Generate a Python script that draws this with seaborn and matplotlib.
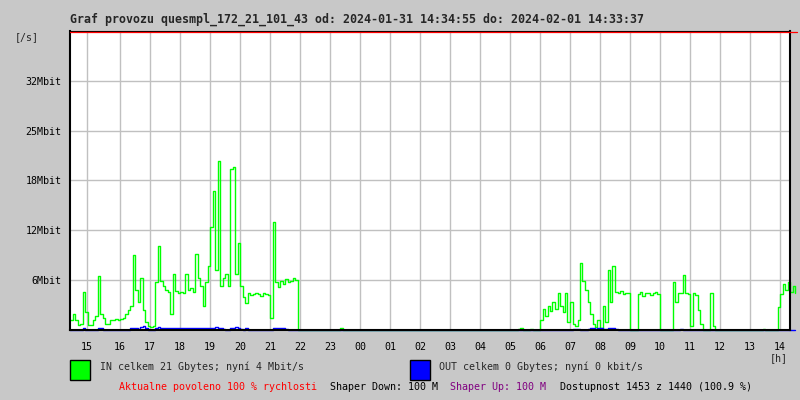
import numpy as np
import pandas as pd
import seaborn as sns
import matplotlib.pyplot as plt
from matplotlib.patches import Rectangle

# 5-minute samples, first sample at 14:20 (Mbit/s)
in_traffic = [
    # 14:20-15:00
    1.3, 2.0, 1.2, 0.6, 0.7, 4.8, 2.2, 0.6,
    # 15
    0.6, 1.2, 1.8, 6.8, 2.0, 1.5, 0.8, 0.7, 1.3, 1.2, 1.4, 1.3,
    # 16
    1.4, 1.5, 2.0, 2.5, 3.0, 9.4, 5.0, 3.5, 6.5, 2.5, 1.0, 0.5,
    # 17
    0.4, 0.5, 6.0, 10.5, 6.2, 5.5, 5.0, 4.8, 2.0, 7.0, 4.9, 4.7,
    # 18
    4.8, 4.6, 7.0, 5.0, 5.3, 4.8, 9.5, 6.5, 5.5, 3.0, 6.0, 8.0,
    # 19
    12.9, 17.4, 7.5, 21.2, 5.5, 6.5, 7.0, 5.5, 20.2, 20.4, 7.0, 10.9,
    # 20
    5.5, 4.2, 3.4, 4.6, 4.4, 4.5, 4.6, 4.5, 4.3, 4.6, 4.5, 4.4,
    # 21
    1.5, 13.5, 6.0, 5.4, 6.2, 5.8, 6.4, 6.0, 6.2, 6.5, 6.3, 0.0,
    # 22
    0, 0, 0, 0, 0, 0, 0, 0, 0, 0, 0, 0,
    # 23
    0, 0, 0, 0, 0.3, 0, 0, 0, 0, 0, 0, 0,
    # 00
    0, 0, 0, 0, 0, 0, 0, 0, 0, 0, 0, 0,
    # 01
    0, 0, 0, 0, 0, 0, 0, 0, 0, 0, 0, 0,
    # 02
    0, 0, 0, 0, 0, 0, 0, 0, 0, 0, 0, 0,
    # 03
    0, 0, 0, 0, 0, 0, 0, 0, 0, 0, 0, 0,
    # 04
    0, 0, 0, 0, 0, 0, 0, 0, 0, 0, 0, 0,
    # 05
    0, 0, 0, 0.1, 0.2, 0, 0, 0, 0.1, 0, 0, 0,
    # 06
    1.2, 2.6, 1.8, 3.0, 2.4, 3.5, 2.6, 4.7, 3.0, 2.2, 4.7, 1.0,
    # 07
    3.5, 0.8, 0.5, 1.2, 8.4, 6.2, 5.0, 3.5, 2.0, 0.8, 0.4, 1.2,
    # 08
    0.3, 3.0, 1.0, 7.5, 3.5, 8.0, 4.8, 4.6, 4.9, 4.5, 4.7, 4.6,
    # 09
    0, 0, 0, 4.5, 4.8, 4.3, 4.6, 4.7, 4.4, 4.6, 4.8, 4.5,
    # 10
    0, 0, 0, 0, 0, 6.0, 3.5, 4.6, 4.7, 6.9, 4.6, 4.5,
    # 11
    0.5, 4.7, 4.4, 2.5, 0.8, 0, 0, 0, 4.7, 0.5, 0, 0,
    # 12
    0, 0, 0, 0, 0, 0, 0, 0, 0, 0, 0, 0,
    # 13
    0, 0, 0, 0, 0, 0.1, 0, 0, 0, 0, 0, 2.9,
    # 14:00-14:35
    4.5, 5.8, 5.0, 6.0, 4.8, 5.5, 4.6,
]

out_traffic = [
    # 14:20-15:00
    0, 0, 0, 0, 0, 0.3, 0, 0,
    # 15
    0, 0, 0, 0.2, 0.2, 0, 0, 0, 0, 0, 0, 0,
    # 16
    0, 0, 0, 0, 0.2, 0.3, 0.2, 0.1, 0.4, 0.5, 0.2, 0,
    # 17
    0, 0, 0.3, 0.4, 0.3, 0.3, 0.25, 0.2, 0.25, 0.3, 0.2, 0.25,
    # 18
    0.25, 0.2, 0.3, 0.25, 0.2, 0.25, 0.3, 0.3, 0.25, 0.2, 0.3, 0.3,
    # 19
    0.25, 0.3, 0.35, 0.3, 0.2, 0.1, 0, 0, 0.2, 0.3, 0.4, 0.3,
    # 20
    0.1, 0, 0.2, 0, 0, 0, 0, 0, 0, 0, 0, 0,
    # 21
    0, 0.3, 0.2, 0.2, 0.25, 0.2, 0.1, 0, 0, 0, 0, 0,
    # 22
    0, 0, 0, 0, 0, 0, 0, 0, 0, 0, 0, 0,
    # 23
    0, 0, 0, 0, 0, 0, 0, 0, 0, 0, 0, 0,
    # 00
    0, 0, 0, 0, 0, 0, 0, 0, 0, 0, 0, 0,
    # 01
    0, 0, 0, 0, 0, 0, 0, 0, 0, 0, 0, 0,
    # 02
    0, 0, 0, 0, 0, 0, 0, 0, 0, 0, 0, 0,
    # 03
    0, 0, 0, 0, 0, 0, 0, 0, 0, 0, 0, 0,
    # 04
    0, 0, 0, 0, 0, 0, 0, 0, 0, 0, 0, 0,
    # 05
    0, 0, 0, 0, 0, 0, 0, 0, 0, 0, 0, 0,
    # 06
    0, 0, 0, 0, 0, 0, 0, 0, 0, 0, 0, 0,
    # 07
    0, 0.1, 0.1, 0.1, 0, 0, 0, 0.15, 0.2, 0.2, 0.15, 0.2,
    # 08
    0.2, 0.1, 0.15, 0.2, 0.2, 0.3, 0.15, 0, 0, 0, 0, 0,
    # 09
    0, 0, 0, 0, 0, 0, 0, 0, 0, 0, 0, 0,
    # 10
    0, 0, 0, 0, 0, 0, 0, 0, 0.1, 0, 0, 0,
    # 11
    0, 0, 0, 0, 0, 0, 0, 0, 0, 0, 0, 0,
    # 12
    0, 0, 0, 0, 0, 0, 0, 0, 0, 0, 0, 0,
    # 13
    0, 0, 0, 0, 0, 0, 0, 0, 0, 0, 0, 0,
    # 14:00-14:35
    0, 0.05, 0, 0, 0, 0, 0,
]

hour_ticks = [14.9, 16, 17, 18, 19, 20, 21, 22, 23, 24, 25, 26, 27, 28, 29,
              30, 31, 32, 33, 34, 35, 36, 37, 38]
hour_labels = ["15", "16", "17", "18", "19", "20", "21", "22", "23", "00",
               "01", "02", "03", "04", "05", "06", "07", "08", "09", "10",
               "11", "12", "13", "14"]
y_ticks = [6.25, 12.5, 18.75, 25, 31.25]
y_labels = ["6Mbit", "12Mbit", "18Mbit", "25Mbit", "32Mbit"]

title = "Graf provozu quesmpl_172_21_101_43 od: 2024-01-31 14:34:55 do: 2024-02-01 14:33:37"

start = 14 + 20 / 60
df = pd.DataFrame({
    "hour": start + np.arange(len(in_traffic)) * 5 / 60,
    "in": in_traffic,
    "out": out_traffic,
})

sns.set_style("white")
plt.rcParams["font.family"] = ["DejaVu Sans Mono"]

W, H = 800, 400
fig = plt.figure(figsize=(8, 4), dpi=100, facecolor="#c8c8c8")
ax = fig.add_axes([70 / W, 1 - 330 / H, 720 / W, 299 / H])
ax.set_facecolor("white")

# lines sit under the black spines (zorder 2.5) like in the original
sns.lineplot(data=df, x="hour", y="in", ax=ax, color="#00ff00", lw=1.0,
             drawstyle="steps-post", estimator=None, clip_on=False, zorder=2.1)
sns.lineplot(data=df, x="hour", y="out", ax=ax, color="#0000ff", lw=1.0,
             drawstyle="steps-post", estimator=None, clip_on=False, zorder=2.2)

ax.set_xlim(start, start + 24)
ax.set_ylim(0, 37.5)
ax.set_xticks(hour_ticks)
ax.set_xticklabels(hour_labels)
ax.set_yticks(y_ticks)
ax.set_yticklabels(y_labels)
ax.tick_params(axis="both", length=0, labelsize=7.2, colors="black")
ax.tick_params(axis="x", pad=9)
ax.tick_params(axis="y", pad=6)
ax.grid(True, color="#c0c0c0", lw=1.0)
ax.set_axisbelow(True)
ax.set_xlabel("")
ax.set_ylabel("")

for side in ["left", "bottom", "right"]:
    ax.spines[side].set_color("black")
    ax.spines[side].set_linewidth(1.5)
ax.spines["top"].set_color("black")
ax.spines["top"].set_linewidth(0.8)
ax.plot([0, 1.0097], [0.995, 0.995], transform=ax.transAxes, color="red",
        lw=0.9, clip_on=False, zorder=5)


def px(x, y):
    return x / W, 1 - y / H


fig.text(*px(70, 19), title, fontsize=8.4, fontweight="bold", va="center", ha="left")
fig.text(*px(15, 37), "[/s]", fontsize=7.2, va="center", ha="left")
fig.text(*px(779, 358), "[h]", fontsize=7.2, va="center", ha="center")

fig.patches.append(Rectangle(px(70, 380), 20 / W, 20 / H, transform=fig.transFigure,
                             facecolor="#00ff00", edgecolor="black", lw=1.0))
fig.patches.append(Rectangle(px(410, 380), 20 / W, 20 / H, transform=fig.transFigure,
                             facecolor="#0000ff", edgecolor="black", lw=1.0))
fig.text(*px(100, 367), "IN celkem 21 Gbytes; nyní 4 Mbit/s", fontsize=7.2, va="center")
fig.text(*px(439, 367), "OUT celkem 0 Gbytes; nyní 0 kbit/s", fontsize=7.2, va="center")
fig.text(*px(119, 387), "Aktualne povoleno 100 % rychlosti", fontsize=7.2, va="center", color="red")
fig.text(*px(330, 387), "Shaper Down: 100 M", fontsize=7.2, va="center", color="black")
fig.text(*px(450, 387), "Shaper Up: 100 M", fontsize=7.2, va="center", color="#800080")
fig.text(*px(560, 387), "Dostupnost 1453 z 1440 (100.9 %)", fontsize=7.2, va="center", color="black")

fig.savefig("out.png", dpi=100, facecolor=fig.get_facecolor())
